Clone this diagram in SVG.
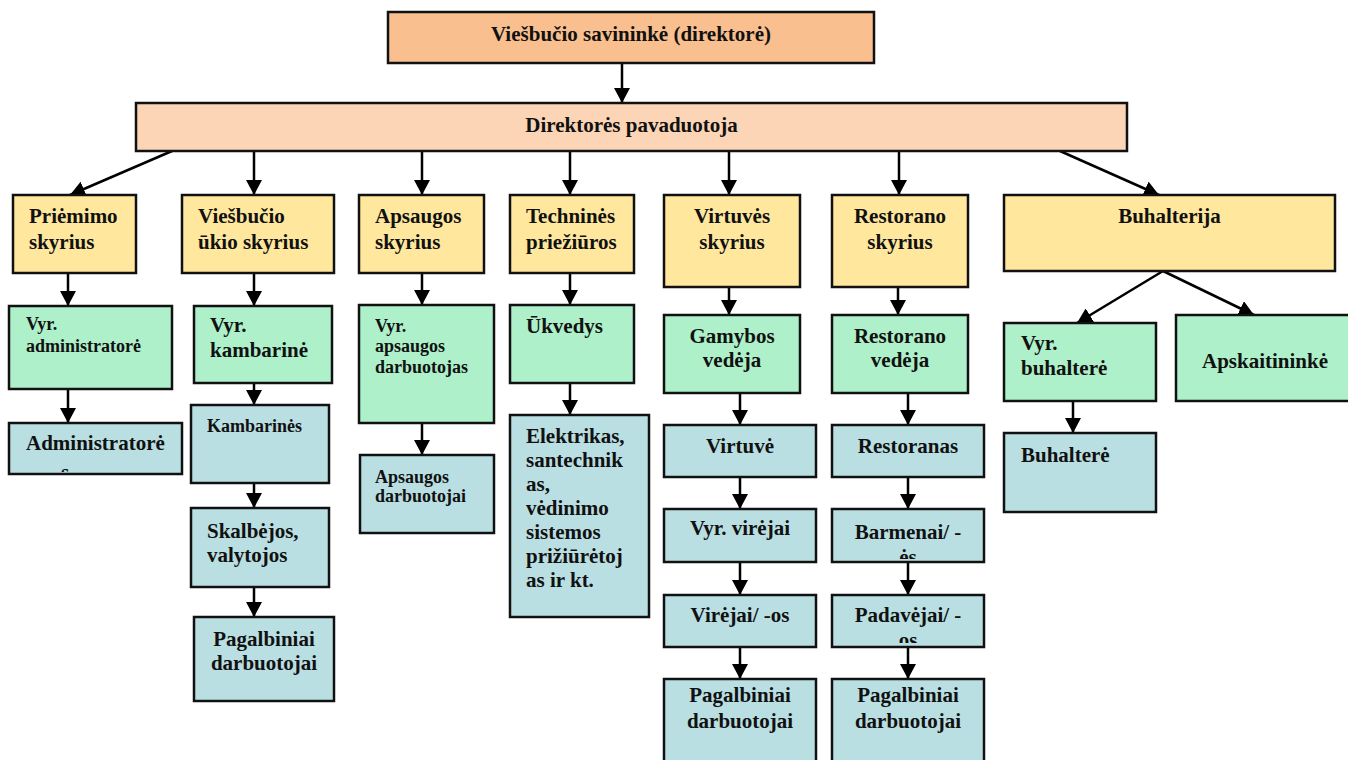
<svg xmlns="http://www.w3.org/2000/svg" width="1348" height="760" viewBox="0 0 1348 760">
  <defs>
    <marker id="ah" markerUnits="userSpaceOnUse" markerWidth="15" markerHeight="16" refX="15" refY="8" orient="auto">
      <path d="M0,0 L15,8 L0,16 Z" fill="#000"/>
    </marker>
    <clipPath id="clip-admin"><rect x="11" y="425" width="169" height="47"/></clipPath>
    <clipPath id="clip-barmen"><rect x="834" y="511" width="148" height="48"/></clipPath>
    <clipPath id="clip-padav"><rect x="834" y="597" width="148" height="46"/></clipPath>
  </defs>
  <style>
    rect { stroke: #111; stroke-width: 2.5; }
    .top { fill: #F9BF8F; }
    .dep { fill: #FBD5B5; }
    .unit { fill: #FFE79D; }
    .lead { fill: #ADF0C9; }
    .staff { fill: #B9DFE3; }
    text { font-family: "Liberation Serif", "Times New Roman", serif; font-weight: bold; font-size: 21px; fill: #111; }
    .sm { font-size: 18px; }
    .c { text-anchor: middle; }
    #connectors line { stroke: #000; stroke-width: 2.5; marker-end: url(#ah); }
  </style>
  <rect x="0" y="0" width="1348" height="760" fill="#fff" style="stroke:none"/>

  <!-- connectors -->
  <g id="connectors">
    <line x1="622" y1="63" x2="622" y2="103"/>
    <line x1="172" y1="151" x2="70" y2="195"/>
    <line x1="254" y1="151" x2="254" y2="195"/>
    <line x1="422" y1="151" x2="422" y2="195"/>
    <line x1="570" y1="151" x2="570" y2="195"/>
    <line x1="729" y1="151" x2="729" y2="195"/>
    <line x1="899" y1="151" x2="899" y2="195"/>
    <line x1="1060" y1="151" x2="1159" y2="195"/>
    <line x1="68" y1="273" x2="68" y2="306"/>
    <line x1="254" y1="273" x2="254" y2="306"/>
    <line x1="422" y1="273" x2="422" y2="305"/>
    <line x1="570" y1="273" x2="570" y2="305"/>
    <line x1="729" y1="287" x2="729" y2="315"/>
    <line x1="898" y1="287" x2="898" y2="315"/>
    <line x1="1163" y1="271" x2="1077" y2="323"/>
    <line x1="1163" y1="271" x2="1254" y2="315"/>
    <line x1="68" y1="389" x2="68" y2="423"/>
    <line x1="254" y1="383" x2="254" y2="405"/>
    <line x1="422" y1="423" x2="422" y2="455"/>
    <line x1="570" y1="383" x2="570" y2="415"/>
    <line x1="740" y1="393" x2="740" y2="425"/>
    <line x1="908" y1="393" x2="908" y2="425"/>
    <line x1="1073" y1="401" x2="1073" y2="433"/>
    <line x1="254" y1="483" x2="254" y2="508"/>
    <line x1="740" y1="477" x2="740" y2="509"/>
    <line x1="908" y1="477" x2="908" y2="509"/>
    <line x1="254" y1="587" x2="254" y2="617"/>
    <line x1="740" y1="562" x2="740" y2="595"/>
    <line x1="908" y1="562" x2="908" y2="595"/>
    <line x1="740" y1="647" x2="740" y2="679"/>
    <line x1="908" y1="647" x2="908" y2="679"/>
  </g>

  <!-- management -->
  <g id="owner">
    <rect class="top" x="388" y="12" width="486" height="51"/>
    <text class="c" x="631" y="41">Viešbučio savininkė (direktorė)</text>
  </g>
  <g id="deputy">
    <rect class="dep" x="136" y="103" width="991" height="48"/>
    <text class="c" x="631.5" y="132">Direktorės pavaduotoja</text>
  </g>

  <!-- departments -->
  <g id="reception">
    <rect class="unit" x="13" y="195" width="123" height="78"/>
    <text x="29" y="223">Priėmimo</text>
    <text x="29" y="249">skyrius</text>
  </g>
  <g id="housekeeping">
    <rect class="unit" x="182" y="195" width="152" height="78"/>
    <text x="198" y="223">Viešbučio</text>
    <text x="198" y="249">ūkio skyrius</text>
  </g>
  <g id="security">
    <rect class="unit" x="359" y="195" width="125" height="78"/>
    <text x="375" y="223">Apsaugos</text>
    <text x="375" y="249">skyrius</text>
  </g>
  <g id="maintenance">
    <rect class="unit" x="510" y="195" width="124" height="78"/>
    <text x="526" y="223">Techninės</text>
    <text x="526" y="249">priežiūros</text>
  </g>
  <g id="kitchen">
    <rect class="unit" x="664" y="195" width="136" height="92"/>
    <text class="c" x="732" y="223">Virtuvės</text>
    <text class="c" x="732" y="249">skyrius</text>
  </g>
  <g id="restaurant">
    <rect class="unit" x="832" y="195" width="136" height="92"/>
    <text class="c" x="900" y="223">Restorano</text>
    <text class="c" x="900" y="249">skyrius</text>
  </g>
  <g id="accounting">
    <rect class="unit" x="1004" y="195" width="331" height="76"/>
    <text class="c" x="1169.5" y="223">Buhalterija</text>
  </g>

  <!-- heads -->
  <g id="head-admin">
    <rect class="lead" x="9" y="306" width="163" height="83"/>
    <text class="sm" x="26" y="330">Vyr.</text>
    <text class="sm" x="26" y="352">administratorė</text>
  </g>
  <g id="head-maid">
    <rect class="lead" x="194" y="306" width="138" height="77"/>
    <text x="210" y="332">Vyr.</text>
    <text x="210" y="357">kambarinė</text>
  </g>
  <g id="head-security">
    <rect class="lead" x="359" y="305" width="135" height="118"/>
    <text class="sm" x="375" y="332">Vyr.</text>
    <text class="sm" x="375" y="352">apsaugos</text>
    <text class="sm" x="375" y="373">darbuotojas</text>
  </g>
  <g id="caretaker">
    <rect class="lead" x="510" y="305" width="124" height="78"/>
    <text x="526" y="333">Ūkvedys</text>
  </g>
  <g id="production-manager">
    <rect class="lead" x="664" y="315" width="136" height="78"/>
    <text class="c" x="732" y="343">Gamybos</text>
    <text class="c" x="732" y="367">vedėja</text>
  </g>
  <g id="restaurant-manager">
    <rect class="lead" x="832" y="315" width="136" height="78"/>
    <text class="c" x="900" y="343">Restorano</text>
    <text class="c" x="900" y="367">vedėja</text>
  </g>
  <g id="chief-accountant">
    <rect class="lead" x="1004" y="323" width="152" height="78"/>
    <text x="1021" y="350">Vyr.</text>
    <text x="1021" y="375">buhalterė</text>
  </g>
  <g id="bookkeeper">
    <rect class="lead" x="1176" y="315" width="184" height="86"/>
    <text class="c" x="1265" y="368">Apskaitininkė</text>
  </g>

  <!-- staff -->
  <g id="administrators">
    <rect class="staff" x="9" y="423" width="173" height="51"/>
    <text x="26" y="450">Administratorė</text>
    <text x="61" y="479" clip-path="url(#clip-admin)">s</text>
  </g>
  <g id="maids">
    <rect class="staff" x="191" y="405" width="138" height="78"/>
    <text class="sm" x="207" y="432">Kambarinės</text>
  </g>
  <g id="guards">
    <rect class="staff" x="360" y="455" width="134" height="78"/>
    <text class="sm" x="375" y="483">Apsaugos</text>
    <text class="sm" x="375" y="502">darbuotojai</text>
  </g>
  <g id="technicians">
    <rect class="staff" x="510" y="415" width="139" height="202"/>
    <text x="526" y="443">Elektrikas,</text>
    <text x="526" y="467">santechnik</text>
    <text x="526" y="491">as,</text>
    <text x="526" y="515">vėdinimo</text>
    <text x="526" y="539">sistemos</text>
    <text x="526" y="563">prižiūrėtoj</text>
    <text x="526" y="587">as ir kt.</text>
  </g>
  <g id="kitchen-staff">
    <rect class="staff" x="664" y="425" width="152" height="52"/>
    <text class="c" x="740" y="453">Virtuvė</text>
  </g>
  <g id="restaurant-hall">
    <rect class="staff" x="832" y="425" width="152" height="52"/>
    <text class="c" x="908" y="453">Restoranas</text>
  </g>
  <g id="accountant">
    <rect class="staff" x="1004" y="433" width="152" height="79"/>
    <text x="1021" y="462">Buhalterė</text>
  </g>
  <g id="laundry">
    <rect class="staff" x="191" y="508" width="138" height="79"/>
    <text x="207" y="538">Skalbėjos,</text>
    <text x="207" y="562">valytojos</text>
  </g>
  <g id="head-cooks">
    <rect class="staff" x="664" y="509" width="152" height="53"/>
    <text class="c" x="740" y="535">Vyr. virėjai</text>
  </g>
  <g id="bartenders">
    <rect class="staff" x="832" y="509" width="152" height="53"/>
    <text class="c" x="908" y="539">Barmenai/ -</text>
    <text class="c" x="908" y="564" clip-path="url(#clip-barmen)">ės</text>
  </g>
  <g id="helpers-housekeeping">
    <rect class="staff" x="194" y="617" width="140" height="84"/>
    <text class="c" x="264" y="646">Pagalbiniai</text>
    <text class="c" x="264" y="670">darbuotojai</text>
  </g>
  <g id="cooks">
    <rect class="staff" x="664" y="595" width="152" height="52"/>
    <text class="c" x="740" y="622">Virėjai/ -os</text>
  </g>
  <g id="waiters">
    <rect class="staff" x="832" y="595" width="152" height="52"/>
    <text class="c" x="908" y="622">Padavėjai/ -</text>
    <text class="c" x="908" y="647" clip-path="url(#clip-padav)">os</text>
  </g>
  <g id="helpers-kitchen">
    <rect class="staff" x="664" y="679" width="152" height="92"/>
    <text class="c" x="740" y="702">Pagalbiniai</text>
    <text class="c" x="740" y="728">darbuotojai</text>
  </g>
  <g id="helpers-restaurant">
    <rect class="staff" x="832" y="679" width="152" height="92"/>
    <text class="c" x="908" y="702">Pagalbiniai</text>
    <text class="c" x="908" y="728">darbuotojai</text>
  </g>
</svg>
